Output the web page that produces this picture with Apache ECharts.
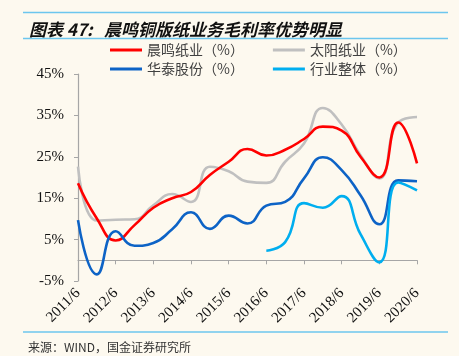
<!DOCTYPE html>
<html><head><meta charset="utf-8">
<script src="https://cdn.jsdelivr.net/npm/echarts@6/dist/echarts.min.js"></script>
<style>html,body{margin:0;padding:0;background:#fdf9ef}#c{width:459px;height:356px}</style>
</head><body><div id="c"></div>
<script>
const categories = ['2011/6','2011/12','2012/6','2012/12','2013/6','2013/12','2014/6','2014/12','2015/6','2015/12','2016/6','2016/12','2017/6','2017/12','2018/6','2018/12','2019/6','2019/12','2020/6'];
const yTickValues = [-5, 5, 15, 25, 35, 45];
const chenming = [18.6, 10.1, 4.8, 8.5, 12.7, 15.0, 16.5, 20.6, 23.8, 26.9, 25.3, 26.7, 29.3, 32.3, 31.3, 25.0, 20.0, 33.3, 23.4];
const taiyang  = [22.6, 9.6, 9.8, 9.9, 13.3, 16.0, 14.1, 22.6, 21.5, 19.0, 18.7, 23.8, 28.2, 36.8, 32.8, 25.4, 19.8, 33.3, 34.6];
const huatai   = [9.7, -3.4, 7.0, 3.5, 4.2, 7.5, 11.6, 7.6, 10.8, 8.9, 13.2, 14.1, 19.8, 24.9, 21.8, 15.7, 8.7, 19.3, 19.1];
const hangye   = [null, null, null, null, null, null, null, null, null, null, 2.3, 4.4, 13.8, 12.7, 15.5, 6.3, -0.5, 18.8, 16.9];
const names = ['晨鸣纸业（%）', '太阳纸业（%）', '华泰股份（%）', '行业整体（%）'];

const chart = echarts.init(document.getElementById('c'));
const serif = '"Liberation Serif", "Times New Roman", serif';
const cjk = '"Noto Sans CJK SC", sans-serif';
function mk(name, data, color, z) {
  return { name: name, type: 'line', data: data, smooth: true, showSymbol: false, symbol: 'none',
    xAxisIndex: 0, yAxisIndex: 0, z: z,
    lineStyle: { color: color, width: 2.6 }, itemStyle: { color: color } };
}
chart.setOption({
  backgroundColor: '#fdf9ef',
  animation: false,
  title: [
    { text: '图表 47:   晨鸣铜版纸业务毛利率优势明显', left: 24, top: 16,
      textStyle: { fontFamily: cjk, fontSize: 17, fontWeight: 'bold', fontStyle: 'italic', color: '#111' } },
    { text: '来源：WIND，国金证券研究所', left: 23, top: 336,
      textStyle: { fontFamily: cjk, fontSize: 12, fontWeight: 'normal', color: '#333' } }
  ],
  graphic: [
    { type: 'line', shape: { x1: 23, y1: 12.5, x2: 448, y2: 12.5 }, style: { stroke: '#6cc6ee', lineWidth: 1.5 } },
    { type: 'line', shape: { x1: 23, y1: 38.5, x2: 448, y2: 38.5 }, style: { stroke: '#6cc6ee', lineWidth: 1.5 } },
    { type: 'line', shape: { x1: 23, y1: 332, x2: 448, y2: 332 }, style: { stroke: '#6cc6ee', lineWidth: 1.5 } }
  ],
  legend: [
    { data: [names[0], names[1]], left: 110, top: 43, itemWidth: 32, itemHeight: 3, itemGap: 29, icon: 'rect', padding: 0,
      textStyle: { fontFamily: cjk, fontSize: 14, color: '#404040' } },
    { data: [names[2], names[3]], left: 110, top: 62, itemWidth: 32, itemHeight: 3, itemGap: 29, icon: 'rect', padding: 0,
      textStyle: { fontFamily: cjk, fontSize: 14, color: '#404040' } }
  ],
  grid: { left: 78, right: 42, top: 74, bottom: 75, containLabel: false },
  xAxis: [
    { type: 'category', data: categories, boundaryGap: false, position: 'bottom',
      axisLine: { onZero: true, lineStyle: { color: '#a6a6a6', width: 1.2 } },
      axisTick: { show: true, interval: 1, length: 4, lineStyle: { color: '#a6a6a6' } },
      axisLabel: { show: false }, splitLine: { show: false } },
    { type: 'category', data: categories, boundaryGap: false, position: 'bottom',
      axisLine: { show: false, onZero: false }, axisTick: { show: false },
      axisLabel: { show: true, interval: 1, rotate: 45, margin: 10, fontFamily: serif, fontSize: 15, color: '#111' },
      splitLine: { show: false } }
  ],
  yAxis: [
    { type: 'value', min: -5, max: 45,
      axisLine: { show: true, lineStyle: { color: '#a6a6a6', width: 1.2 } },
      axisTick: { show: true, length: 4, customValues: yTickValues, lineStyle: { color: '#a6a6a6' } },
      axisLabel: { show: true, customValues: yTickValues, margin: 14, fontFamily: serif, fontSize: 15, color: '#111',
        formatter: function (v) { return v + '%'; } },
      splitLine: { show: false } }
  ],
  series: [
    mk(names[1], taiyang, '#c0c0c0', 2),
    mk(names[0], chenming, '#ff0000', 3),
    mk(names[2], huatai, '#0d63c6', 4),
    mk(names[3], hangye, '#00aeef', 5)
  ]
});
</script>
</body></html>
